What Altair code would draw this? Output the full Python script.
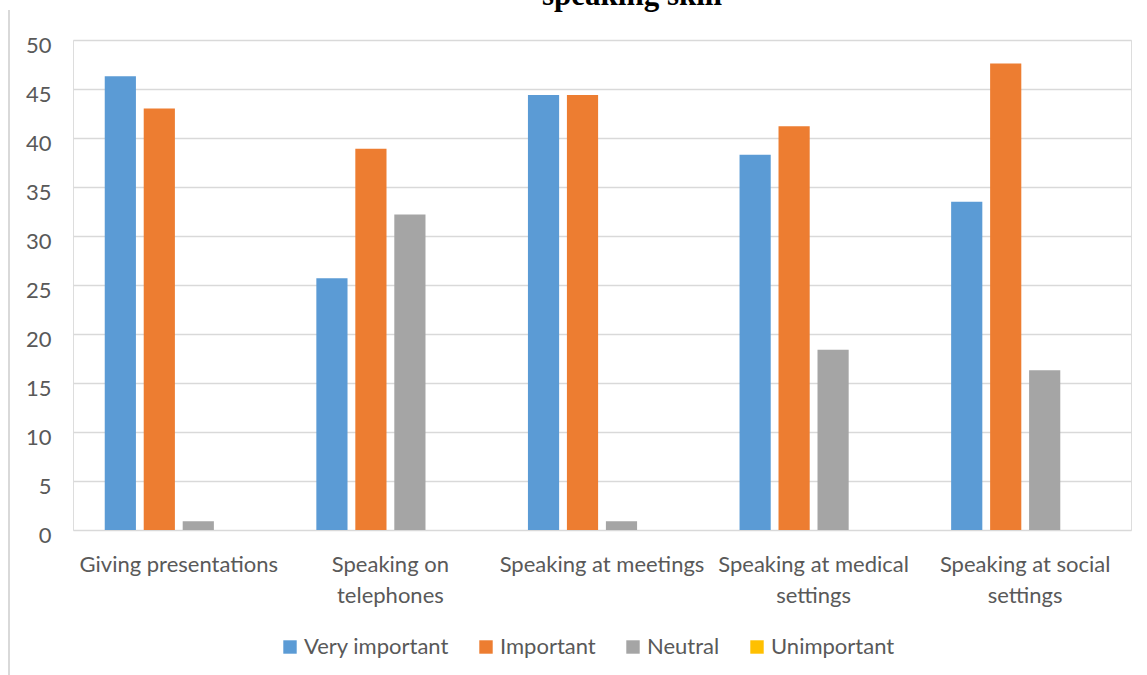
import json
import altair as alt
import pandas as pd

# Survey results: how important each speaking situation is rated
categories = [
    "Giving presentations",
    "Speaking on telephones",
    "Speaking at meetings",
    "Speaking at medical settings",
    "Speaking at social settings",
]
series = ["Very important", "Important", "Neutral", "Unimportant"]
very_important = [46.3, 25.7, 44.4, 38.3, 33.5]
important = [43.0, 38.9, 44.4, 41.2, 47.6]
neutral = [0.9, 32.2, 0.9, 18.4, 16.3]
unimportant = [0, 0, 0, 0, 0]
colors = ["#5B9BD5", "#ED7D31", "#A5A5A5", "#FFC000"]
y_ticks = [0, 5, 10, 15, 20, 25, 30, 35, 40, 45, 50]

# category labels split over two lines
wrapped = {
    "Speaking on telephones": ["Speaking on", "telephones"],
    "Speaking at medical settings": ["Speaking at medical", "settings"],
    "Speaking at social settings": ["Speaking at social", "settings"],
}

rows = []
for name, vals in zip(series, [very_important, important, neutral, unimportant]):
    for cat, v in zip(categories, vals):
        rows.append({"category": cat, "series": name, "value": v})
df = pd.DataFrame(rows)

label_expr = " : ".join(
    f"datum.value == '{full}' ? {json.dumps(lines)}" for full, lines in wrapped.items()
) + " : datum.value"

FONT = "Lato"
FS = 22
TEXT_COLOR = "#595959"
GRID = "#d9d9d9"
W, H = 1058, 490

bars = alt.Chart(df).mark_bar().encode(
    x=alt.X(
        "category:N",
        sort=categories,
        title=None,
        scale=alt.Scale(paddingInner=0.3, paddingOuter=0.15),
        axis=alt.Axis(
            labelAngle=0,
            ticks=False,
            domain=False,
            grid=False,
            labelExpr=label_expr,
            labelFont=FONT,
            labelFontSize=FS,
            labelColor=TEXT_COLOR,
            labelPadding=24,
            labelLineHeight=31,
            labelLimit=400,
        ),
    ),
    xOffset=alt.XOffset(
        "series:N", sort=series, scale=alt.Scale(paddingInner=0.2, paddingOuter=0)
    ),
    y=alt.Y(
        "value:Q",
        title=None,
        scale=alt.Scale(domain=[0, 50], nice=False),
        axis=alt.Axis(
            values=y_ticks,
            ticks=False,
            domain=False,
            gridColor=GRID,
            gridWidth=1.5,
            labelFont=FONT,
            labelFontSize=FS,
            labelColor=TEXT_COLOR,
            labelPadding=22,
            labelOffset=5,
        ),
    ),
    color=alt.Color(
        "series:N",
        sort=series,
        scale=alt.Scale(domain=series, range=colors),
        legend=alt.Legend(
            title=None,
            orient="none",
            direction="horizontal",
            legendX=206,
            legendY=596,
            symbolType="square",
            symbolSize=180,
            symbolStrokeWidth=0,
            labelFont=FONT,
            labelFontSize=FS,
            labelColor=TEXT_COLOR,
            labelOffset=3,
            columnPadding=26,
        ),
    ),
)

# chart heading, partly running off the top edge
title = alt.Chart(pd.DataFrame({"t": ["speaking skill"]})).mark_text(
    font="Liberation Serif",
    fontWeight="bold",
    fontSize=31,
    color="black",
    baseline="alphabetic",
    align="center",
).encode(text="t:N", x=alt.value(559), y=alt.value(-35))

# thin frame line on the left side
frame = alt.Chart(pd.DataFrame({"a": [0]})).mark_rule(
    color=GRID, strokeWidth=2
).encode(x=alt.value(-64), y=alt.value(-30), y2=alt.value(640))

chart = (
    alt.layer(frame, bars, title)
    .properties(
        width=W,
        height=H,
        autosize=alt.AutoSizeParams(type="none"),
        padding={"left": 73, "top": 40, "right": 16, "bottom": 145},
    )
    .configure_view(stroke=None)
    .configure(background="white")
)

chart.save("out.html", embed_options={"renderer": "svg", "actions": False})
